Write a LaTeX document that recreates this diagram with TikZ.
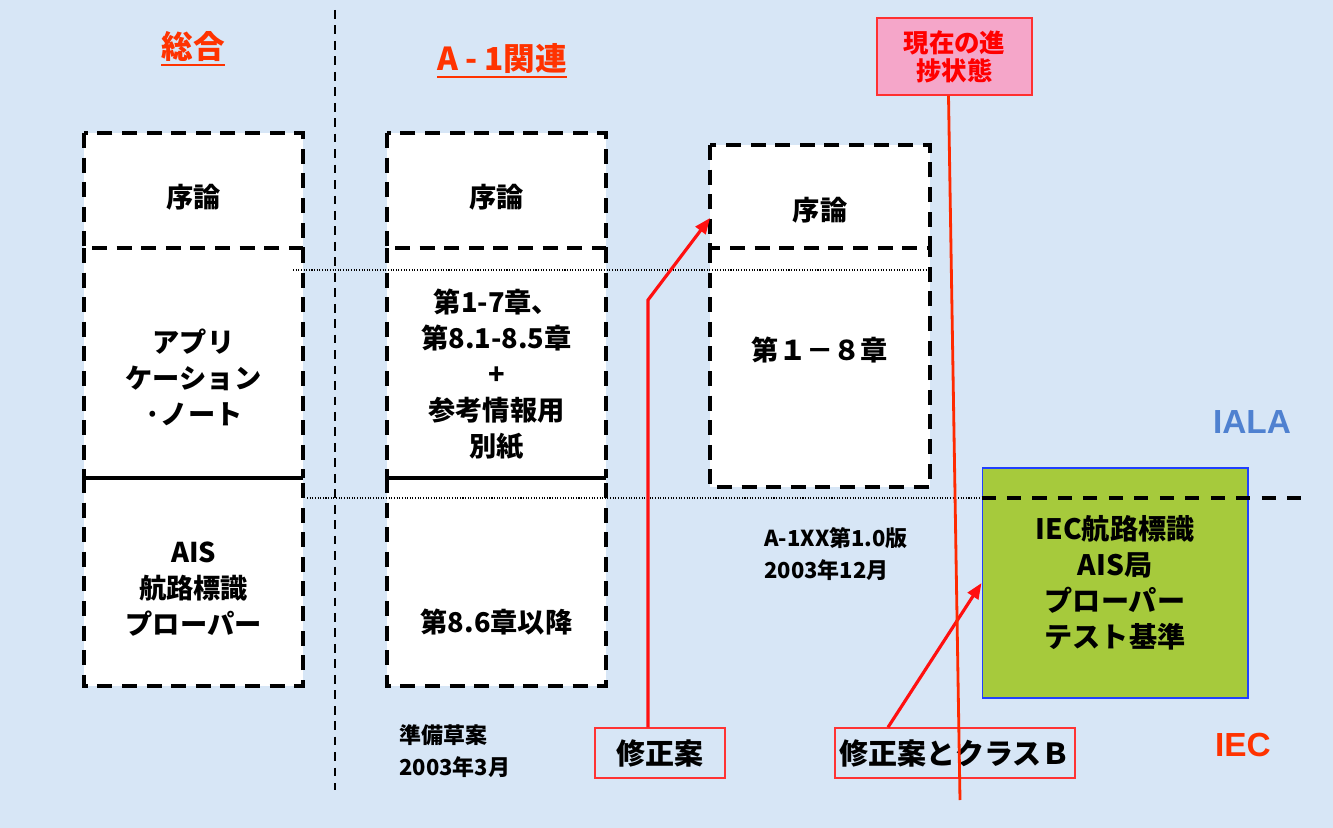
\documentclass[tikz,border=0pt]{standalone}
\usepackage{fontspec}
\usetikzlibrary{arrows.meta}
\newfontfamily\jp{Noto Sans CJK JP}
\newfontfamily\latsans{Liberation Sans}
\newcommand\myul[1]{\leavevmode\vtop{\hbox{#1}\kern1.2pt\hrule height 1.2pt}}
\definecolor{bgblue}{HTML}{D7E6F6}
\definecolor{titlered}{HTML}{FF3300}
\definecolor{arrred}{HTML}{FF1010}
\definecolor{nowred}{HTML}{FF2A00}
\definecolor{pinkfill}{HTML}{F5A6C9}
\definecolor{pinkedge}{HTML}{FF3030}
\definecolor{iecgreen}{HTML}{A6CA3C}
\definecolor{iecedge}{HTML}{2040FF}
\definecolor{ialablue}{HTML}{4F81D0}
\definecolor{boxred}{HTML}{FF3333}
\begin{document}
\begin{tikzpicture}[x=0.02cm,y=-0.02cm,
  sect/.style={rectangle, fill=white, inner sep=0pt, outer sep=0pt, minimum width=4.38cm},
  boxdash/.style={line width=2pt, dash pattern=on 8.5pt off 5.5pt},
  solidl/.style={line width=2.2pt},
  divider/.style={line width=1.3pt, dash pattern=on 5pt off 3.8pt},
  dotline/.style={line width=0.7pt, dash pattern=on 0.6pt off 0.9pt},
  thickdash/.style={line width=2.3pt, dash pattern=on 8pt off 6.5pt},
  txt/.style={font=\jp\bfseries\fontsize{15.5}{20.5}\selectfont, align=center, text=black, inner sep=0pt},
  small/.style={font=\jp\bfseries\fontsize{12.5}{18.5}\selectfont, align=left, text=black, inner sep=0pt},
  title/.style={font=\jp\bfseries\fontsize{18}{22}\selectfont, text=titlered, inner sep=0pt},
  redbox/.style={draw=boxred, line width=0.8pt, minimum height=1cm, inner sep=0pt, font=\jp\bfseries\fontsize{16.5}{20}\selectfont},
  redarrow/.style={draw=arrred, line width=1.8pt, -{Triangle[length=9pt,width=7pt]}},
  nowline/.style={draw=nowred, line width=1.6pt},
  pinkbox/.style={draw=pinkedge, line width=0.8pt, fill=pinkfill, minimum width=3.1cm, minimum height=1.54cm, align=center, text=red, inner sep=0pt, font=\jp\bfseries\fontsize{14.5}{16}\selectfont},
  iecbox/.style={draw=iecedge, line width=0.6pt, fill=iecgreen, minimum width=5.32cm, minimum height=4.6cm, align=center, inner sep=0pt, font=\jp\bfseries\fontsize{16}{20.5}\selectfont}
]
\useasboundingbox (0,0) rectangle (1333,828);
\fill[bgblue] (0,0) rectangle (1333,828);

% divider
\coordinate (divtop) at (335,10);
\coordinate (divbot) at (335,790);
\draw[divider] (divtop) -- (divbot);

% titles
\node[title] (tsogo) at (193,49) {\myul{総合}};
\node[title] (ta1) at (502,61) {\myul{A - 1関連}};

% left column
\node[sect, minimum height=2.3cm] (l1) at (193.5,190.5) {};
\node[sect, minimum height=4.6cm] (l2) at (193.5,363) {};
\node[sect, minimum height=4.16cm] (l3) at (193.5,582) {};
\draw[boxdash] (l1.north west) rectangle (l1.south east);
\draw[boxdash] (l2.north west) -- (l2.south west) (l2.north east) -- (l2.south east);
\draw[solidl] (l2.south west) -- (l2.south east);
\draw[boxdash] (l3.north west) -- (l3.south west) -- (l3.south east) -- (l3.north east);

% middle column
\node[sect, minimum height=2.3cm] (m1) at (496.5,190.5) {};
\node[sect, minimum height=4.6cm] (m2) at (496.5,363) {};
\node[sect, minimum height=4.16cm] (m3) at (496.5,582) {};
\draw[boxdash] (m1.north west) rectangle (m1.south east);
\draw[boxdash] (m2.north west) -- (m2.south west) (m2.north east) -- (m2.south east);
\draw[solidl] (m2.south west) -- (m2.south east);
\draw[boxdash] (m3.north west) -- (m3.south west) -- (m3.south east) -- (m3.north east);

% right column
\node[sect, minimum width=4.4cm, minimum height=2.06cm] (r1) at (820,196.5) {};
\node[sect, minimum width=4.4cm, minimum height=4.78cm] (r2) at (820,367.5) {};
\draw[boxdash] (r1.north west) rectangle (r1.south east);
\draw[boxdash] (r2.north west) -- (r2.south west) -- (r2.south east) -- (r2.north east);

% dotted guide lines
\coordinate (d1s) at (293,270);
\coordinate (d1e) at (930,270);
\draw[dotline] (d1s) -- (d1e);

% IEC box
\node[iecbox] (iec) at (1115,583) {IEC航路標識\\AIS局\\プローパー\\テスト基準};

\coordinate (d2s) at (307,498);
\coordinate (d2e) at (1305,498);
\draw[dotline] (d2s) -- (iec.west |- d2s);
\draw[thickdash] (iec.west |- d2s) -- (d2e);

% texts in boxes
\node[txt] (l1t) at (193.5,197) {序論};
\node[txt] (l2t) at (193.5,377) {アプリ\\ケーション\\·ノート};
\node[txt] (l3t) at (193.5,589) {AIS\\航路標識\\プローパー};
\node[txt] (m1t) at (496.5,197) {序論};
\node[txt] (m2t) at (496.5,374) {第1-7章、\\第8.1-8.5章\\+\\参考情報用\\別紙};
\node[txt] (m3t) at (496.5,622) {第8.6章以降};
\node[txt] (r1t) at (820,210) {序論};
\node[txt] (r2t) at (820,350) {第１－８章};

% side labels
\node[font=\latsans\bfseries\fontsize{19}{22}\selectfont, text=ialablue, inner sep=0pt] (iala) at (1252,422) {IALA};
\node[font=\latsans\bfseries\fontsize{19}{22}\selectfont, text=titlered, inner sep=0pt] (ieclab) at (1243,745) {IEC};

% dates
\node[small, anchor=west] (prep) at (399,751) {準備草案\\2003年3月};
\node[small, anchor=west] (ver) at (764,554) {A-1XX第1.0版\\2003年12月};

% revision boxes and arrows
\node[redbox, minimum width=2.6cm] (shu) at (660,753) {修正案};
\node[redbox, minimum width=4.8cm] (shub) at (955,753) {修正案とクラスＢ};
\coordinate (c648) at (648,300);
\coordinate (c888) at (888,0);
\draw[redarrow] (shu.north -| c648) -- (c648) -- ([yshift=-0.43cm]r1.west);
\draw[redarrow] (shub.north -| c888) -- (iec.west);

% current status marker
\node[pinkbox] (now) at (954.5,56.5) {現在の進\\捗状態};
\coordinate (nowend) at (960,800);
\draw[nowline] ([xshift=-0.12cm]now.south) -- (nowend);
\end{tikzpicture}
\end{document}
